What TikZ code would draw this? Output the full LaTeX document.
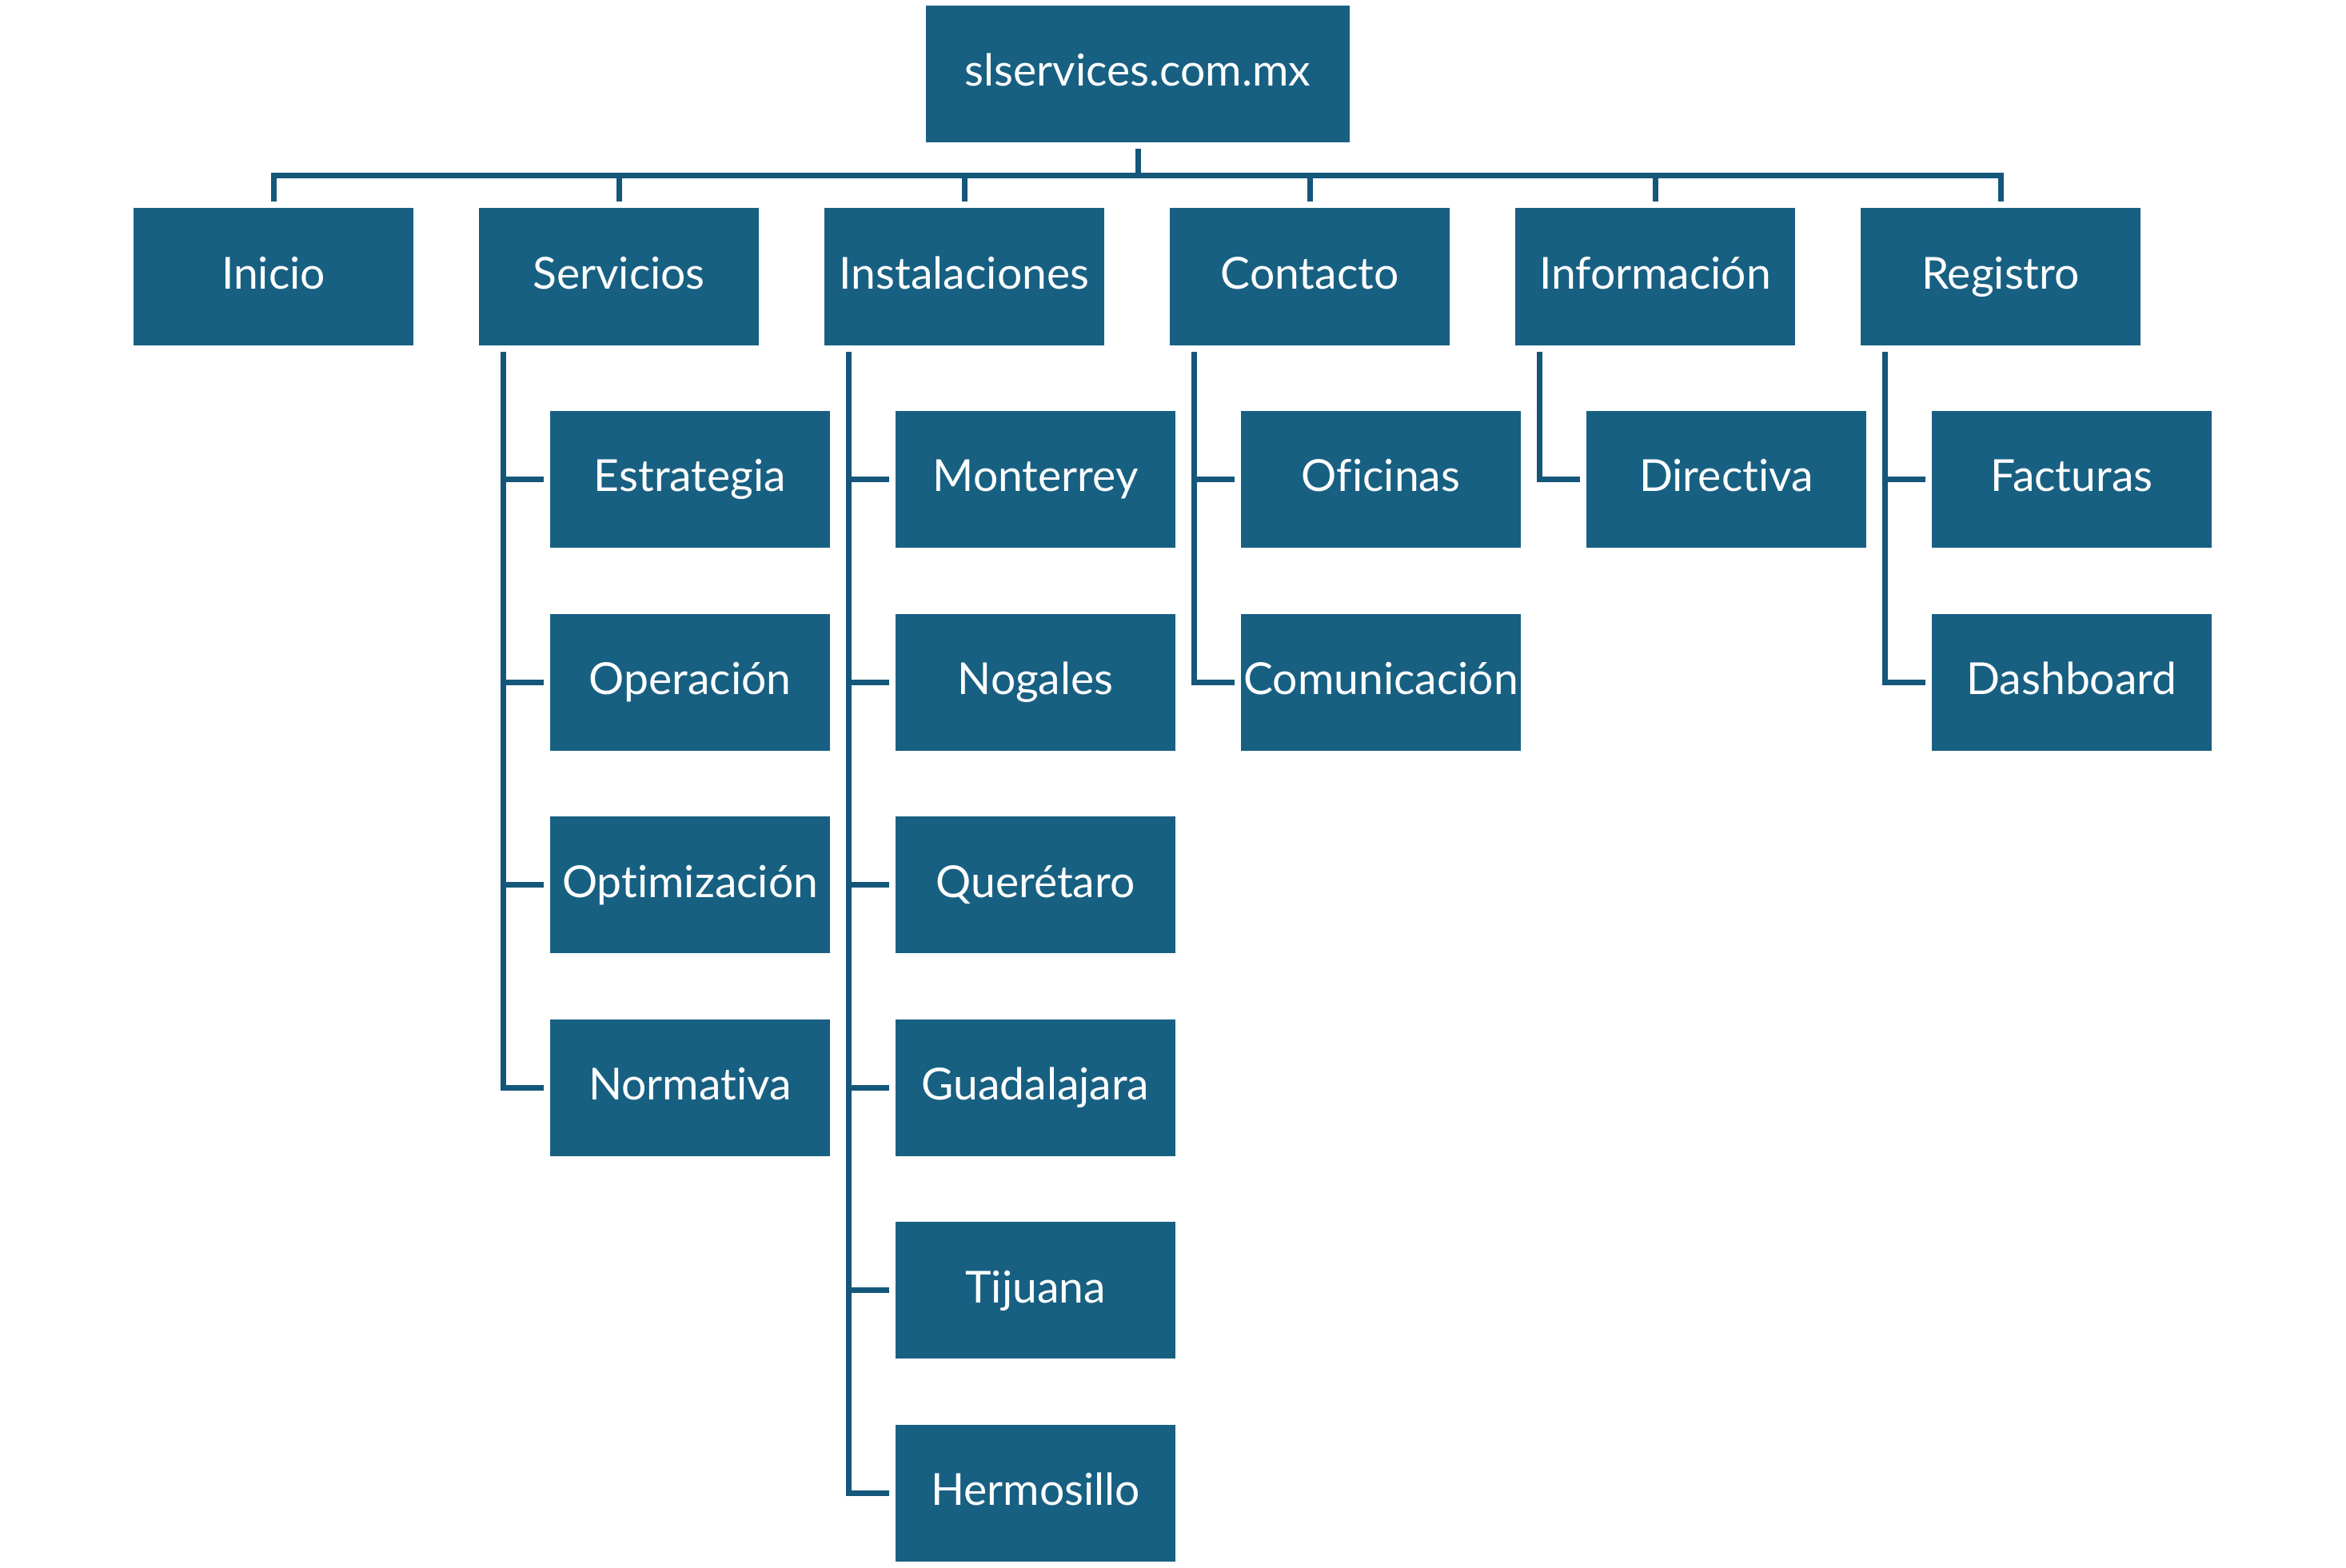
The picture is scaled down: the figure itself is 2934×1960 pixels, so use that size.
\documentclass[tikz,border=0pt]{standalone}
\usepackage{fontspec}
\setmainfont[Ligatures={NoCommon}]{Lato}
\definecolor{boxfill}{HTML}{186082}
\definecolor{linecol}{HTML}{14577A}
\tikzset{
  box/.style={rectangle, fill=boxfill, draw=none, inner sep=0pt,
    minimum width=87.5pt, minimum height=43pt, text=white,
    font=\fontsize{13.8pt}{16pt}\selectfont, text height=9.9pt, text depth=2.2pt},
  rootbox/.style={box, minimum width=132.5pt, minimum height=42.75pt},
  kid/.style={box, minimum height=42.75pt},
  conn/.style={draw=linecol, line width=1.75pt, line cap=butt, line join=miter},
}
\newcommand{\tx}[1]{\makebox[0pt]{#1}}
\begin{document}
\begin{tikzpicture}[x=0.25pt, y=-0.25pt]
\useasboundingbox (0,0) rectangle (2934,1960);
% root
\node[rootbox] (root) at (1423,92.5) {\tx{slservices.com.mx}};
\coordinate (bus) at (0,219);
% level 1
\node[box] (inicio) at (342,346) {\tx{Inicio}};
\node[box] (serv) at (774,346) {\tx{Servicios}};
\node[box] (inst) at (1206,346) {\tx{Instalaciones}};
\node[box] (cont) at (1638,346) {\tx{Contacto}};
\node[box] (info) at (2070,346) {\tx{Información}};
\node[box] (reg) at (2502,346) {\tx{Registro}};
% Servicios children
\node[kid] (s1) at (863,599.5) {\tx{Estrategia}};
\node[kid] (s2) at (863,853.1) {\tx{Operación}};
\node[kid] (s3) at (863,1106.7) {\tx{Optimización}};
\node[kid] (s4) at (863,1360.3) {\tx{Normativa}};
% Instalaciones children
\node[kid] (i1) at (1295,599.5) {\tx{Monterrey}};
\node[kid] (i2) at (1295,853.1) {\tx{Nogales}};
\node[kid] (i3) at (1295,1106.7) {\tx{Querétaro}};
\node[kid] (i4) at (1295,1360.3) {\tx{Guadalajara}};
\node[kid] (i5) at (1295,1613.9) {\tx{Tijuana}};
\node[kid] (i6) at (1295,1867.5) {\tx{Hermosillo}};
% Contacto children
\node[kid] (c1) at (1727,599.5) {\tx{Oficinas}};
\node[kid] (c2) at (1727,853.1) {\tx{Comunicación}};
% Información children
\node[kid] (f1) at (2159,599.5) {\tx{Directiva}};
% Registro children
\node[kid] (r1) at (2591,599.5) {\tx{Facturas}};
\node[kid] (r2) at (2591,853.1) {\tx{Dashboard}};
% root to level 1
\foreach \n in {inicio,serv,inst,cont,info,reg}
  \draw[conn] ([yshift=-1.75pt]root.south) -- (root.south |- bus) -| ([yshift=1.75pt]\n.north);
% level 1 to children
\foreach \p/\kids in {serv/{s1,s2,s3,s4}, inst/{i1,i2,i3,i4,i5,i6}, cont/{c1,c2}, info/{f1}, reg/{r1,r2}}
  \foreach \k in \kids
    \draw[conn] ([shift={(7.875pt,-1.75pt)}]\p.south west) |- ([xshift=-1.75pt]\k.west);
\end{tikzpicture}
\end{document}
